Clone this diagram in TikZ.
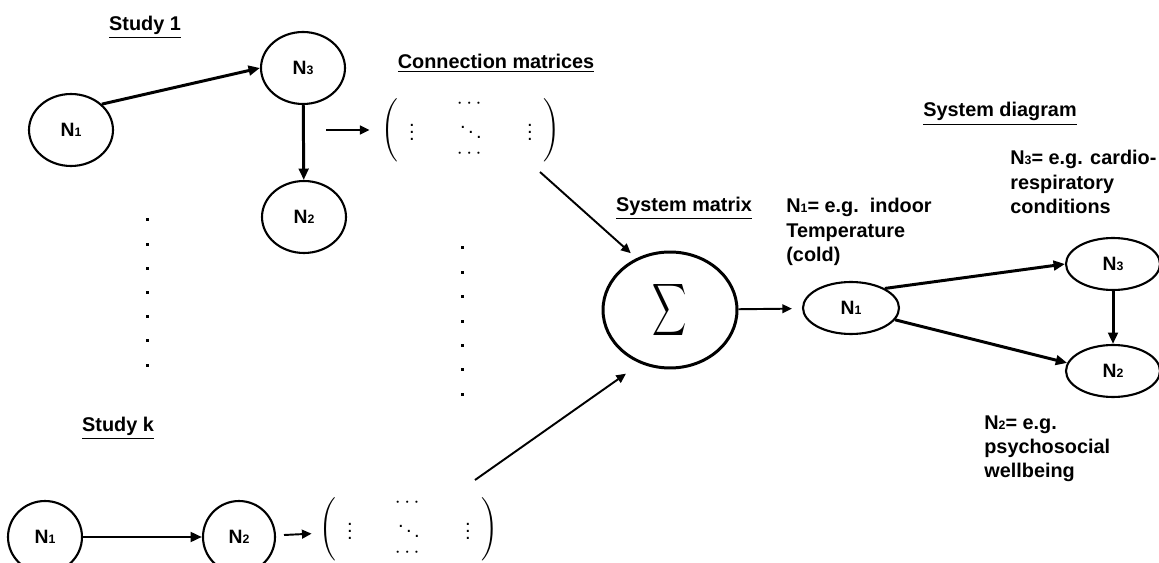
\documentclass[tikz,border=0pt]{standalone}
\usepackage{amsmath}
\usepackage{fontspec}
\setmainfont{Liberation Sans}
\usepackage{tikz}
\usetikzlibrary{shapes.geometric}
\usetikzlibrary{arrows.meta}
\tikzset{>={Triangle[length=6.5pt,width=5.5pt]},
      nd/.style={ellipse, draw, line width=1.2pt, inner sep=0pt,
      font=\bfseries\fontsize{11}{13}\selectfont},
      hd/.style={anchor=base, inner sep=0pt,
      font=\bfseries\fontsize{11.3}{13.9}\selectfont},
      txt/.style={align=left, anchor=north west, inner sep=0pt,
      font=\bfseries\fontsize{11.3}{13.9}\selectfont},
      mtx/.style={inner sep=0pt, font=\fontsize{11.5}{13}\selectfont},
      every edge/.style={draw,
      ->,line width=1.7pt},
      slim/.style={line width=1.1pt,>={Triangle[length=5.5pt,width=5pt]}}}
\newcommand{\ix}[1]{{\fontsize{7}{8}\selectfont #1}}
\newcommand{\conmat}{$\def\arraystretch{0.8}\Biggl(\begin{array}{@{\hspace{6pt}}c@{\hspace{24pt}}c@{\hspace{24pt}}c@{\hspace{6pt}}}
 & \cdots & \\ \vdots & \ddots & \vdots \\ & \cdots & \end{array}\Biggr)$}

\begin{document}
\begin{tikzpicture}[x=0.02cm,y=-0.02cm]
          \useasboundingbox (0,0) rectangle (1159,563);

          % study 1
          \node[hd] (st1) at (145,31) {\underline{Study 1}};
          \node[nd, minimum width=1.68cm, minimum height=1.44cm] (a1) at (71,130) {N\ix{1}};
          \node[nd, minimum width=1.68cm, minimum height=1.44cm] (a3) at (303,68) {N\ix{3}};
          \node[nd, minimum width=1.68cm, minimum height=1.44cm] (a2) at (304,217) {N\ix{2}};

          \draw (a1.40) edge (a3.west);
          \draw (a3) edge (a2);

          % study k
          \node[hd] (stk) at (118,432) {\underline{Study k}};
          \node[nd, minimum width=1.48cm, minimum height=1.44cm] (b1) at (45,537) {N\ix{1}};
          \node[nd, minimum width=1.44cm, minimum height=1.44cm] (b2) at (239,537) {N\ix{2}};

          \draw (b1) edge (b2);

          % dots between the studies
          \foreach \k in {0,...,6} {
            \fill (145.5,{218.5+24.2*\k}) rectangle ++(3,3);
            \fill (460.5,{246.5+24.4*\k}) rectangle ++(3,3);
          }

          % connection matrices
          \node[hd] (cm) at (496,69) {\underline{Connection matrices}};
          \node[mtx] (m1) at (471,130) {\conmat};
          \node[mtx] (mk) at (409,529) {\conmat};
          \coordinate (m1in) at (326,130);
          \coordinate (mkin) at (284,535);
          \coordinate (m1out) at (540,172);
          \coordinate (mkout) at (475,480);

          \draw (m1in) edge[slim, shorten >=0.24cm] (m1);
          \draw (mkin) edge[slim, shorten >=0.16cm] (mk);

          % system matrix
          \node[hd] (sm) at (684,212) {\underline{System matrix}};
          \node[ellipse, draw, line width=1.7pt, minimum width=2.68cm, minimum height=2.32cm] (sig) at (670,310)
               {\scalebox{0.65}[1]{\fontsize{19.5}{20}\selectfont$\displaystyle\sum$}};

          \draw (m1out) edge[slim, shorten >=0.15cm] (sig.123);
          \draw (mkout) edge[slim, shorten >=0.35cm] (sig.241);

          % system diagram
          \node[hd] (sd) at (1000,117) {\underline{System diagram}};
          \node[nd, minimum width=1.92cm, minimum height=1.04cm] (c1) at (851,308) {N\ix{1}};
          \node[nd, minimum width=1.88cm, minimum height=1.04cm] (c3) at (1113,264) {N\ix{3}};
          \node[nd, minimum width=1.88cm, minimum height=1.04cm] (c2) at (1113,371) {N\ix{2}};

          \draw (sig) edge[slim, shorten >=0.2cm] (c1);
          \draw (c1.30) edge (c3.west);
          \draw (c1.-15) edge (c2.170);
          \draw (c3) edge (c2);

          \node[txt] (t1) at (786,198) {N\ix{1}= e.g.\ \ indoor\\Temperature\\(cold)};
          \node[txt] (t3) at (1010,150) {N\ix{3}= e.g. cardio-\\respiratory\\conditions};
          \node[txt] (t2) at (984,415) {N\ix{2}= e.g.\\psychosocial\\wellbeing};
       \end{tikzpicture}
\end{document}
